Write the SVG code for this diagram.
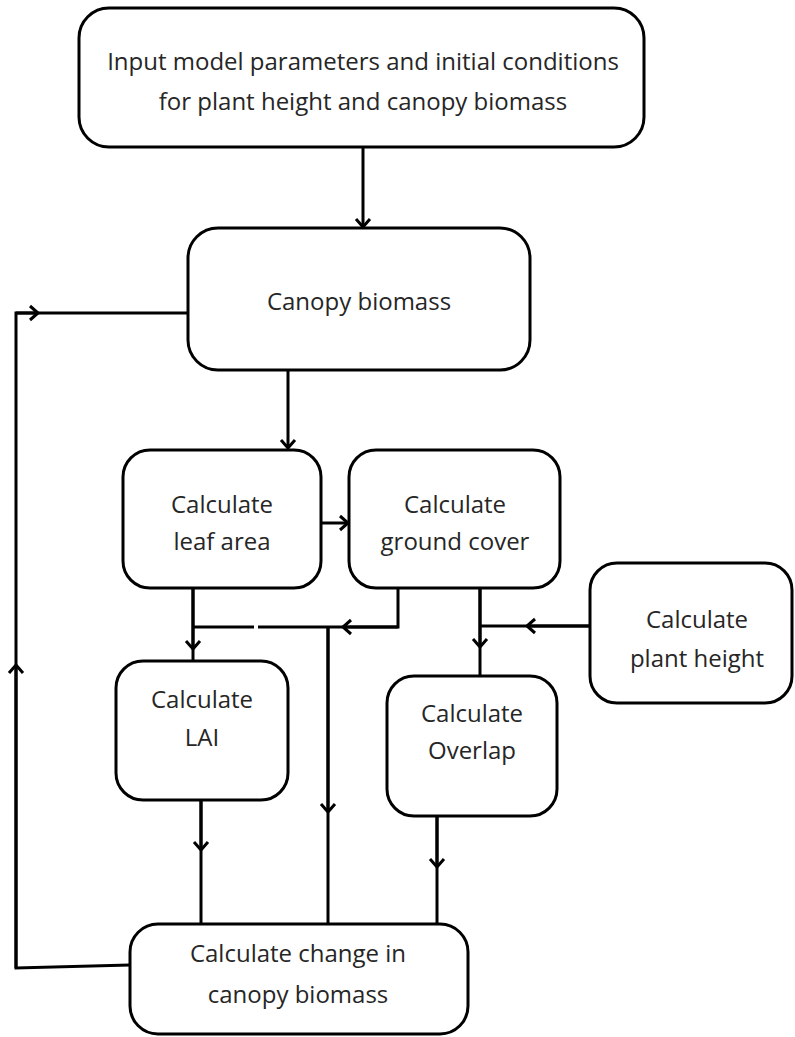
<svg xmlns="http://www.w3.org/2000/svg" width="795" height="1037" viewBox="0 0 795 1037">
<style>
.box{fill:#fff;stroke:#000;stroke-width:3}
.lbl{font-family:"Open Sans","Noto Sans",sans-serif;font-size:24px;fill:#262626;text-anchor:middle;dominant-baseline:central}
.c{fill:none;stroke:#000;stroke-width:3}
</style>
<defs>
<marker id="arr" markerUnits="userSpaceOnUse" viewBox="-12 -10 14 20" refX="0" refY="0" markerWidth="14" markerHeight="20" orient="auto" overflow="visible">
<path d="M-8,-7 L0,0 L-8,7" fill="none" stroke="#000" stroke-width="3"/>
</marker>
</defs>
<g id="connectors">
<path class="c" d="M363,147 L363,227" marker-end="url(#arr)"/>
<path class="c" d="M288,370 L288,448" marker-end="url(#arr)"/>
<path class="c" d="M321,523 L348,523" marker-end="url(#arr)"/>
<path class="c" d="M193,588 L193,661"/>
<path class="c" d="M193,588 L193,649" marker-end="url(#arr)"/>
<path class="c" d="M193,627 L254,627"/>
<path class="c" d="M258,627 L398,627 L398,588"/>
<path class="c" d="M398,627 L343,627" marker-end="url(#arr)"/>
<path class="c" d="M328,627 L328,925"/>
<path class="c" d="M328,627 L328,812" marker-end="url(#arr)"/>
<path class="c" d="M480,588 L480,676"/>
<path class="c" d="M480,588 L480,647" marker-end="url(#arr)"/>
<path class="c" d="M590,626 L480,626"/>
<path class="c" d="M590,626 L527,626" marker-end="url(#arr)"/>
<path class="c" d="M201,800 L201,925"/>
<path class="c" d="M201,800 L201,850" marker-end="url(#arr)"/>
<path class="c" d="M437,816 L437,925"/>
<path class="c" d="M437,816 L437,867" marker-end="url(#arr)"/>
<path class="c" d="M130,965 L16,968 L16,313 L188,313"/>
<path class="c" d="M16,968 L16,665" marker-end="url(#arr)"/>
<path class="c" d="M16,313 L38,313" marker-end="url(#arr)"/>
</g>
<g id="input">
<rect class="box" x="79" y="8" width="565" height="139" rx="30"/>
<text class="lbl" x="363" y="60">Input model parameters and initial conditions</text>
<text class="lbl" x="363" y="100">for plant height and canopy biomass</text>
</g>
<g id="canopy">
<rect class="box" x="188" y="228" width="342" height="142" rx="30"/>
<text class="lbl" x="359" y="300">Canopy biomass</text>
</g>
<g id="leafarea">
<rect class="box" x="123" y="450" width="198" height="138" rx="27"/>
<text class="lbl" x="222" y="503">Calculate</text>
<text class="lbl" x="222" y="540">leaf area</text>
</g>
<g id="groundcover">
<rect class="box" x="349" y="450" width="211" height="138" rx="27"/>
<text class="lbl" x="455" y="503">Calculate</text>
<text class="lbl" x="455" y="540">ground cover</text>
</g>
<g id="plantheight">
<rect class="box" x="590" y="563" width="202" height="140" rx="27"/>
<text class="lbl" x="697" y="618">Calculate</text>
<text class="lbl" x="697" y="657">plant height</text>
</g>
<g id="lai">
<rect class="box" x="116" y="661" width="172" height="139" rx="27"/>
<text class="lbl" x="202" y="698">Calculate</text>
<text class="lbl" x="202" y="736">LAI</text>
</g>
<g id="overlap">
<rect class="box" x="387" y="676" width="170" height="140" rx="27"/>
<text class="lbl" x="472" y="712">Calculate</text>
<text class="lbl" x="472" y="749">Overlap</text>
</g>
<g id="change">
<rect class="box" x="130" y="924" width="338" height="110" rx="28"/>
<text class="lbl" x="298" y="952">Calculate change in</text>
<text class="lbl" x="298" y="993">canopy biomass</text>
</g>
</svg>
